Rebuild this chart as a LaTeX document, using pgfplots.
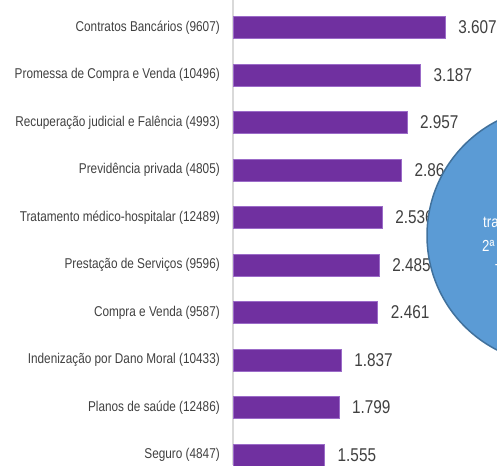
\documentclass[border=0pt]{standalone}
\usepackage{pgfplots}
\pgfplotsset{compat=1.18}
\usepackage{fontspec}
\setmainfont{Liberation Sans}[FakeStretch=0.83]
\definecolor{barpurple}{HTML}{7030A0}
\definecolor{baredge}{HTML}{9B6BC8}
\definecolor{txtgray}{HTML}{404040}
\definecolor{circfill}{HTML}{5B9BD5}
\definecolor{circedge}{HTML}{41719C}
\definecolor{axgray}{HTML}{D9D9D9}
\begin{document}
\begin{tikzpicture}
\begin{axis}[
  at={(233pt,0pt)}, anchor=south west,
  scale only axis, width=264pt, height=465pt,
  xmin=0, xmax=4490, ymin=-0.2105, ymax=9.579,
  xbar, bar width=21.6pt,
  axis x line=none, axis y line*=left,
  y axis line style={draw=axgray, line width=1.5pt},
  ytick={0,...,9},
  yticklabels={Seguro (4847),Planos de saúde (12486),Indenização por Dano Moral (10433),Compra e Venda (9587),Prestação de Serviços (9596),Tratamento médico-hospitalar (12489),Previdência privada (4805),Recuperação judicial e Falência (4993),Promessa de Compra e Venda (10496),Contratos Bancários (9607)},
  yticklabel style={font=\fontsize{14.2}{16}\selectfont, text=txtgray, inner sep=0pt, xshift=-13pt},
  major tick length=0pt,
  clip=false,
  point meta=explicit symbolic,
  nodes near coords,
  nodes near coords style={anchor=west, inner sep=0pt, xshift=13pt, text=txtgray, font=\fontsize{18.5}{20}\selectfont},
]
\addplot[fill=barpurple, draw=baredge, line width=0.5pt] table[x=v, y=i, meta=lab] {
i v lab
0 1555 1.555
1 1799 1.799
2 1837 1.837
3 2461 2.461
4 2485 2.485
5 2536 2.536
6 2864 2.864
7 2957 2.957
8 3187 3.187
9 3607 3.607
};
\end{axis}
\fill[circfill, draw=circedge, line width=1.5pt] (555.6pt,229.5pt) circle (128.6pt);
\node[anchor=base west, inner sep=0pt, text=white, font=\fontsize{16}{18}\selectfont] at (483pt,237pt) {tramitação};
\node[anchor=base west, inner sep=0pt, text=white, font=\fontsize{16}{18}\selectfont] at (482pt,213pt) {2ª instância};
\node[anchor=base west, inner sep=0pt, text=white, font=\fontsize{16}{18}\selectfont] at (495pt,189pt) {TJSP};
\pgfresetboundingbox
\path[use as bounding box] (0pt,0pt) rectangle (497pt,465pt);
\end{tikzpicture}
\end{document}
